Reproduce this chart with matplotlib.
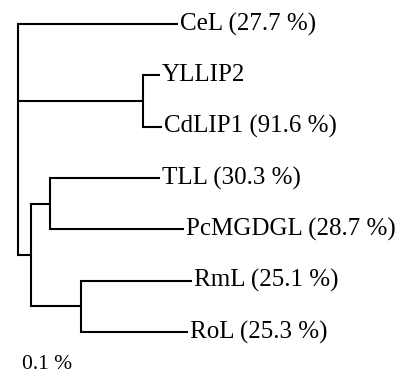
import matplotlib
matplotlib.use("Agg")
import matplotlib.pyplot as plt

# leaves, top to bottom
labels = ["CeL (27.7 %)", "YLLIP2", "CdLIP1 (91.6 %)", "TLL (30.3 %)",
          "PcMGDGL (28.7 %)", "RmL (25.1 %)", "RoL (25.3 %)"]
leaf_parent = ["root", "n1", "n1", "n3", "n3", "n4", "n4"]
leaf_len = [0.160, 0.017, 0.019, 0.110, 0.134, 0.111, 0.107]

# internal nodes
node_names = ["n1", "n2", "n3", "n4"]
node_parent = ["root", "root", "n2", "n2"]
node_len = [0.125, 0.013, 0.019, 0.050]

scale_label = "0.1 %"

plt.rcParams['font.family'] = ['Liberation Serif', 'DejaVu Serif']

# x position of each node (distance from root)
xpos = {"root": 0.0}
for name, par, ln in zip(node_names, node_parent, node_len):
    xpos[name] = xpos[par] + ln

# children of each node
children = {}
for i, par in enumerate(leaf_parent):
    children.setdefault(par, []).append(("leaf", i))
for name, par in zip(node_names, node_parent):
    children.setdefault(par, []).append(("node", name))

ypos = {}
def get_y(kind, key):
    if kind == "leaf":
        return float(key)
    if key not in ypos:
        ys = [get_y(k, c) for k, c in children[key]]
        ypos[key] = (min(ys) + max(ys)) / 2
    return ypos[key]

fig = plt.figure(figsize=(4.0, 3.78), dpi=100)
ax = fig.add_axes([0, 0, 1, 1])
lw = 1.5

for par, kids in children.items():
    px = xpos[par]
    ys = []
    for kind, key in kids:
        y = get_y(kind, key)
        ys.append(y)
        cx = xpos[key] if kind == "node" else xpos[par] + leaf_len[key]
        ax.plot([px, cx], [y, y], color="black", lw=lw, solid_capstyle="butt")
        if kind == "leaf":
            ax.annotate(labels[key], (cx, y), xytext=(1.5, 0), textcoords="offset points",
                        ha="left", va="center", fontsize=18)
    ax.plot([px, px], [min(ys), max(ys)], color="black", lw=lw, solid_capstyle="projecting")

ax.text(0.004, 6.64, scale_label, ha="left", va="center", fontsize=15.5)

ax.set_xlim(-0.018, 0.382)
ax.set_ylim(6.897, -0.468)
ax.axis("off")

fig.savefig("out.png", dpi=100)
